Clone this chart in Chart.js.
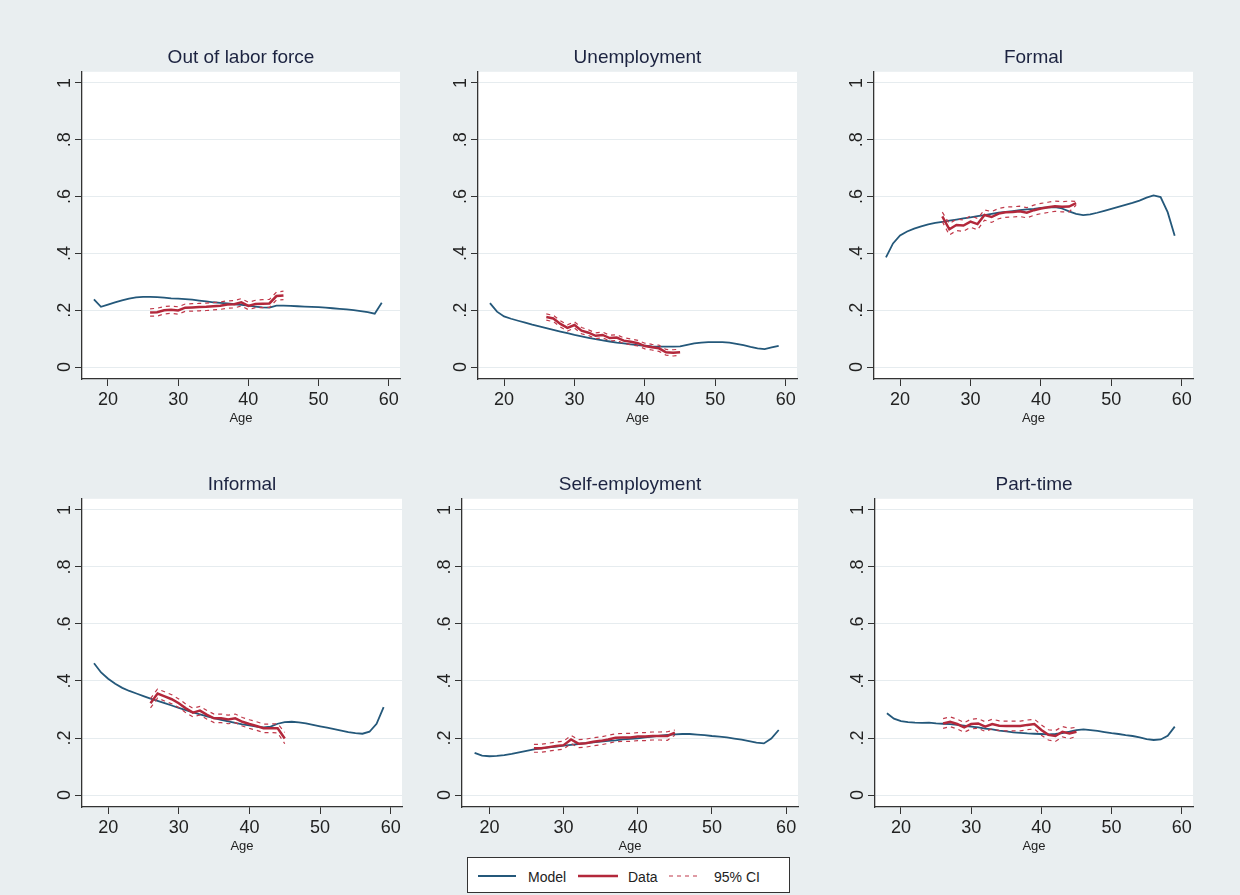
<!DOCTYPE html>
<html>
<head>
<meta charset="utf-8">
<script src="https://cdn.jsdelivr.net/npm/chart.js@4.4.1/dist/chart.umd.min.js"></script>
<style>
  html, body { margin: 0; padding: 0; }
  body { width: 1240px; height: 895px; background: #e9eef0; position: relative; overflow: hidden;
         font-family: "Liberation Sans", Arial, Helvetica, sans-serif; }
  canvas { position: absolute; }
  #legend { position: absolute; left: 467px; top: 857px; width: 321px; height: 34px;
            background: #fff; border: 1px solid #333; }
  #legend span { position: absolute; top: 11px; font-size: 14px; color: #222; }
  #legend svg { position: absolute; left: 0; top: 0; }
</style>
</head>
<body>
<div id="legend">
  <svg width="321" height="34">
    <line x1="10" y1="18" x2="48" y2="18" stroke="#24587a" stroke-width="1.8"/>
    <line x1="110" y1="18" x2="150" y2="18" stroke="#b3283b" stroke-width="2.5"/>
    <line x1="201" y1="18" x2="232" y2="18" stroke="#c0394a" stroke-width="1.2" stroke-dasharray="4,4"/>
  </svg>
  <span style="left:60px">Model</span>
  <span style="left:160px">Data</span>
  <span style="left:246px">95% CI</span>
</div>
<script>
// ages on the x axis
const modelAges = [18,19,20,21,22,23,24,25,26,27,28,29,30,31,32,33,34,35,36,37,38,39,40,41,42,43,44,45,46,47,48,49,50,51,52,53,54,55,56,57,58,59];
const dataAges = [26,27,28,29,30,31,32,33,34,35,36,37,38,39,40,41,42,43,44,45];
const xTicks = [20, 30, 40, 50, 60];
const yTicks = [0, 0.2, 0.4, 0.6, 0.8, 1];
const yTickLabels = ['0', '.2', '.4', '.6', '.8', '1'];
const panelTitles = ['Out of labor force', 'Unemployment', 'Formal', 'Informal', 'Self-employment', 'Part-time'];

// Out of labor force
const olfModel = [.238,.212,.220,.228,.235,.241,.245,.247,.247,.246, .244,.242,.241,.239,.237,.234,.231,.228,.226,.224, .221,.219,.216,.213,.210,.209,.216,.216,.215,.214, .213,.212,.211,.209,.207,.205,.203,.200,.197,.193, .188,.226];
const olfData  = [.192,.193,.200,.202,.199,.209,.210,.211,.212,.214,.216,.220,.221,.228,.215,.222,.223,.224,.250,.252];
const olfUpper = [.205,.207,.213,.215,.212,.222,.223,.224,.225,.227,.229,.233,.234,.241,.228,.235,.237,.238,.264,.267];
const olfLower = [.179,.179,.187,.189,.186,.196,.197,.198,.199,.201,.203,.207,.208,.215,.202,.209,.209,.210,.236,.237];

// Unemployment
const unempModel = [.225,.195,.178,.170,.163,.156,.149,.143,.137,.131, .125,.119,.113,.108,.103,.098,.094,.090,.086,.083, .080,.077,.075,.073,.072,.072,.072,.073,.078,.083, .086,.088,.088,.088,.086,.082,.077,.071,.066,.063, .069,.075];
const unempData  = [.176,.171,.152,.138,.148,.128,.121,.110,.113,.102,.104,.093,.089,.084,.074,.070,.066,.052,.050,.052];
const unempUpper = [.187,.182,.163,.149,.159,.139,.131,.120,.123,.112,.114,.103,.099,.094,.084,.080,.077,.062,.061,.063];
const unempLower = [.165,.160,.141,.127,.137,.117,.111,.100,.103,.092,.094,.083,.079,.074,.064,.060,.055,.042,.039,.041];

// Formal
const formalModel = [.386,.435,.463,.477,.487,.495,.502,.507,.511,.515, .519,.523,.527,.531,.535,.539,.543,.546,.549,.552, .555,.557,.560,.562,.563,.558,.548,.539,.535,.537, .543,.550,.557,.564,.571,.578,.586,.596,.604,.598, .545,.462];
const formalData  = [.530,.485,.500,.498,.512,.503,.535,.528,.540,.545,.546,.548,.543,.552,.558,.562,.566,.564,.565,.577];
const formalUpper = [.545,.505,.520,.518,.532,.523,.553,.547,.558,.563,.564,.566,.561,.570,.576,.580,.584,.582,.584,.583];
const formalLower = [.512,.465,.480,.478,.492,.483,.517,.509,.522,.527,.528,.530,.525,.534,.540,.544,.548,.546,.546,.570];

// Informal
const informalModel = [.462,.430,.408,.390,.376,.365,.356,.347,.338,.330, .322,.314,.306,.298,.290,.283,.276,.270,.264,.258, .253,.248,.244,.240,.237,.240,.250,.256,.257,.255, .251,.246,.241,.236,.231,.226,.221,.217,.215,.222, .250,.308];
const informalData  = [.322,.356,.346,.336,.322,.304,.289,.296,.281,.269,.269,.265,.269,.257,.249,.242,.234,.234,.234,.198];
const informalUpper = [.338,.372,.362,.352,.337,.319,.304,.311,.296,.284,.284,.280,.284,.272,.264,.257,.249,.249,.250,.220];
const informalLower = [.306,.340,.330,.320,.307,.289,.274,.281,.266,.254,.254,.250,.254,.242,.234,.227,.219,.219,.218,.180];

// Self-employment
const selfModel = [.148,.138,.136,.137,.140,.144,.150,.155,.160,.164, .167,.170,.173,.176,.179,.182,.185,.187,.190,.192, .195,.197,.199,.202,.205,.208,.211,.213,.214,.214, .212,.210,.207,.205,.202,.198,.194,.189,.184,.181, .198,.228];
const selfData  = [.164,.164,.168,.172,.175,.195,.180,.182,.187,.190,.195,.201,.202,.202,.205,.205,.207,.207,.207,.219];
const selfUpper = [.178,.178,.182,.186,.189,.209,.194,.196,.201,.204,.209,.215,.216,.216,.219,.219,.221,.221,.222,.228];
const selfLower = [.150,.150,.154,.158,.161,.181,.166,.168,.173,.176,.181,.187,.188,.188,.191,.191,.193,.193,.192,.210];

// Part-time
const partModel = [.287,.268,.259,.256,.254,.253,.254,.251,.250,.249, .246,.243,.240,.237,.233,.230,.226,.223,.220,.218, .216,.215,.214,.213,.214,.217,.222,.228,.230,.228, .225,.221,.217,.214,.210,.207,.202,.196,.193,.195, .208,.240];
const partData  = [.251,.257,.249,.237,.249,.251,.240,.249,.243,.242,.242,.242,.246,.249,.228,.211,.207,.222,.216,.222];
const partUpper = [.268,.274,.266,.254,.266,.268,.257,.266,.260,.259,.259,.259,.263,.266,.246,.229,.226,.240,.234,.238];
const partLower = [.234,.240,.232,.220,.232,.234,.223,.232,.226,.225,.225,.225,.229,.232,.210,.193,.188,.204,.198,.206];

const panelSeries = [
  [olfModel, olfData, olfUpper, olfLower],
  [unempModel, unempData, unempUpper, unempLower],
  [formalModel, formalData, formalUpper, formalLower],
  [informalModel, informalData, informalUpper, informalLower],
  [selfModel, selfData, selfUpper, selfLower],
  [partModel, partData, partUpper, partLower]
];

// where each plot area sits on the page
const panelBoxes = [
  { axisX: 82,  right: 400,  top: 72,  bottom: 379 },
  { axisX: 478, right: 797,  top: 72,  bottom: 379 },
  { axisX: 874, right: 1193, top: 72,  bottom: 379 },
  { axisX: 82,  right: 402,  top: 499, bottom: 807 },
  { axisX: 462, right: 798,  top: 499, bottom: 807 },
  { axisX: 875, right: 1193, top: 499, bottom: 807 }
];

const Y_AXIS_W = 45;
const X_AXIS_H = 47;
const TITLE_H = 26;
const RIGHT_PAD = 5;

const MODEL_COLOR = '#24587a';
const DATA_COLOR = '#b3283b';
const CI_COLOR = '#c0394a';
const AXIS_COLOR = '#333';

Chart.defaults.font.family = '"Liberation Sans", Arial, Helvetica, sans-serif';

// white plot region + vertical y labels (Stata style)
const plotBg = {
  id: 'plotBg',
  beforeDraw(chart) {
    const a = chart.chartArea, ctx = chart.ctx;
    ctx.save();
    ctx.fillStyle = '#fff';
    ctx.fillRect(a.left, a.top, a.right - a.left, a.bottom - a.top);
    ctx.restore();
  },
  afterDraw(chart) {
    const s = chart.scales.y, ctx = chart.ctx;
    ctx.save();
    ctx.font = '18px "Liberation Sans", Arial, sans-serif';
    ctx.fillStyle = '#222';
    ctx.textAlign = 'center';
    ctx.textBaseline = 'middle';
    yTicks.forEach((v, i) => {
      ctx.save();
      ctx.translate(s.right - 17, s.getPixelForValue(v));
      ctx.rotate(-Math.PI / 2);
      ctx.fillText(yTickLabels[i], 0, 0);
      ctx.restore();
    });
    ctx.restore();
  }
};

function pts(xs, ys) {
  return ys.map((y, i) => ({ x: xs[i], y: y }));
}

panelTitles.forEach((title, i) => {
  const b = panelBoxes[i];
  const [model, data, upper, lower] = panelSeries[i];
  const left = b.axisX - Y_AXIS_W;
  const top = b.top - TITLE_H;
  const w = b.right + RIGHT_PAD - left;
  const h = b.bottom + X_AXIS_H - top;

  const c = document.createElement('canvas');
  c.width = w; c.height = h;
  c.style.left = left + 'px'; c.style.top = top + 'px';
  c.style.width = w + 'px'; c.style.height = h + 'px';
  document.body.appendChild(c);

  new Chart(c, {
    type: 'line',
    data: {
      datasets: [
        { label: 'Data', data: pts(dataAges, data), borderColor: DATA_COLOR, borderWidth: 2.5 },
        { label: '95% CI', data: pts(dataAges, upper), borderColor: CI_COLOR, borderWidth: 1.2, borderDash: [4, 4] },
        { label: '95% CI low', data: pts(dataAges, lower), borderColor: CI_COLOR, borderWidth: 1.2, borderDash: [4, 4] },
        { label: 'Model', data: pts(modelAges, model), borderColor: MODEL_COLOR, borderWidth: 1.8 }
      ]
    },
    options: {
      responsive: false,
      animation: false,
      events: [],
      elements: { point: { radius: 0 }, line: { tension: 0 } },
      layout: { padding: { left: 0, right: RIGHT_PAD, top: 0, bottom: 0 } },
      plugins: {
        legend: { display: false },
        tooltip: { enabled: false },
        title: {
          display: true, text: title, fullSize: false, color: '#1c2340',
          font: { size: 19, weight: 'normal' }, padding: { top: 0, bottom: 3 }
        }
      },
      scales: {
        x: {
          type: 'linear', min: 16.3, max: 61.6,
          afterBuildTicks: s => { s.ticks = xTicks.map(v => ({ value: v })); },
          afterFit: s => { s.height = X_AXIS_H; },
          ticks: { color: '#222', font: { size: 18 }, padding: 3, maxRotation: 0 },
          grid: { drawOnChartArea: false, tickLength: 7, tickColor: AXIS_COLOR },
          border: { display: true, color: AXIS_COLOR, width: 1.3 },
          title: { display: true, text: 'Age', color: '#222', font: { size: 13 }, padding: 0 }
        },
        y: {
          type: 'linear', min: -0.042, max: 1.039,
          afterBuildTicks: s => { s.ticks = yTicks.map(v => ({ value: v })); },
          afterFit: s => { s.width = Y_AXIS_W; },
          ticks: { display: false },
          grid: { color: '#e6ecef', lineWidth: 1, tickLength: 7, tickColor: AXIS_COLOR },
          border: { display: true, color: AXIS_COLOR, width: 1.3 }
        }
      }
    },
    plugins: [plotBg]
  });
});
</script>
</body>
</html>
